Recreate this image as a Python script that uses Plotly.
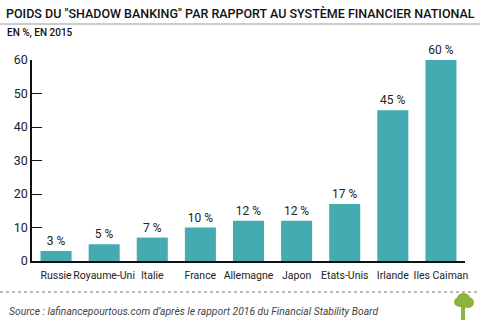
import plotly.graph_objects as go

countries = ["Russie", "Royaume-Uni", "Italie", "France", "Allemagne",
             "Japon", "Etats-Unis", "Irlande", "Iles Caiman"]
shares = [3, 5, 7, 10, 12, 12, 17, 45, 60]
y_ticks = [0, 10, 20, 30, 40, 50, 60]

TEAL = "#43abb1"
LEAF = "#8db33a"
FONT = "Roboto, Liberation Sans, sans-serif"


def px_x(p):
    # paper x coordinate from a pixel column
    return (p - 32) / 433


def px_y(p):
    # paper y coordinate from a pixel row
    return (261 - p) / 201


fig = go.Figure()
fig.add_trace(go.Bar(
    x=countries, y=shares,
    marker=dict(color=TEAL, line=dict(width=0)),
    text=[f"{v} %" for v in shares],
    textposition="outside",
    textfont=dict(family=FONT, size=12, color="#222"),
    cliponaxis=False,
))

fig.update_layout(
    width=480, height=327,
    margin=dict(l=32, r=15, t=60, b=66),
    paper_bgcolor="white", plot_bgcolor="white",
    bargap=0.355,
    showlegend=False,
    xaxis=dict(
        range=[-0.5, 8.5], showline=True, linecolor="#111", linewidth=1.5,
        ticks="", tickangle=0, ticklabelstandoff=4,
        tickfont=dict(family=FONT, size=10.5, color="#222"),
        showgrid=False, fixedrange=True,
    ),
    yaxis=dict(
        range=[0, 60], tickvals=y_ticks, showline=True, linecolor="#111",
        linewidth=1.5, ticks="inside", ticklen=10, tickcolor="#111",
        tickfont=dict(family=FONT, size=12.5, color="#222"),
        showgrid=False, zeroline=False, fixedrange=True,
    ),
    annotations=[
        dict(text="POIDS DU \"SHADOW BANKING\" PAR RAPPORT AU SYSTÈME FINANCIER NATIONAL",
             xref="paper", yref="paper", x=px_x(4), y=px_y(13),
             xanchor="left", yanchor="middle", showarrow=False,
             font=dict(family=FONT, size=12.5, color="#111", weight=500)),
        dict(text="EN %, EN 2015",
             xref="paper", yref="paper", x=px_x(5), y=px_y(33),
             xanchor="left", yanchor="middle", showarrow=False,
             font=dict(family=FONT, size=10, color="#111", weight=500)),
        dict(text="<i>Source : lafinancepourtous.com d’après le rapport 2016 du Financial Stability Board</i>",
             xref="paper", yref="paper", x=px_x(7), y=px_y(311),
             xanchor="left", yanchor="middle", showarrow=False,
             font=dict(family=FONT, size=10.3, color="#444")),
    ],
    shapes=[
        # rule under the title
        dict(type="line", xref="paper", yref="paper", x0=px_x(0), x1=px_x(480),
             y0=px_y(24), y1=px_y(24), line=dict(color="#999", width=1)),
        # dotted rule above the source line
        dict(type="line", xref="paper", yref="paper", x0=px_x(0), x1=px_x(480),
             y0=px_y(292), y1=px_y(292), line=dict(color="#777", width=1, dash="dot")),
        # small tree logo: trunk and canopy
        dict(type="rect", xref="paper", yref="paper", x0=px_x(461), x1=px_x(465),
             y0=px_y(320), y1=px_y(303), fillcolor=LEAF, line=dict(width=0)),
        dict(type="circle", xref="paper", yref="paper", x0=px_x(454), x1=px_x(466),
             y0=px_y(307), y1=px_y(297), fillcolor=LEAF, line=dict(width=0)),
        dict(type="circle", xref="paper", yref="paper", x0=px_x(461), x1=px_x(474),
             y0=px_y(308), y1=px_y(297), fillcolor=LEAF, line=dict(width=0)),
        dict(type="circle", xref="paper", yref="paper", x0=px_x(457), x1=px_x(470),
             y0=px_y(304), y1=px_y(293), fillcolor=LEAF, line=dict(width=0)),
    ],
)

fig.write_html("out.html")
